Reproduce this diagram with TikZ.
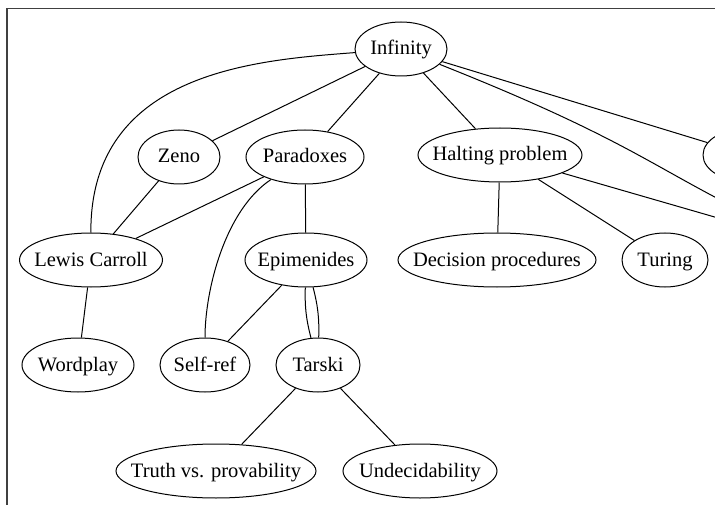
\documentclass[tikz,border=0pt]{standalone}
\usepackage{fontspec}
\setmainfont{Liberation Serif}
\usetikzlibrary{shapes.geometric}
\tikzset{
  topic/.style={draw, ellipse, line width=1pt, inner sep=0pt, minimum height=54,
    minimum width=#1, text height=15, text depth=3,
    font=\fontsize{20.5}{24}\selectfont},
  link/.style={line width=1pt}
}
\begin{document}
\begin{tikzpicture}[x=1pt,y=-1pt]
\useasboundingbox (0,0) rectangle (715,505);
\clip (0,0) rectangle (715,505);
\draw[black!75, line width=1.2pt] (7,520) -- (7,8.5) -- (730,8.5);

\node[topic=92] (inf) at (401,49) {\makebox[0pt]{Infinity}};
\node[topic=82] (zeno) at (179,157) {\makebox[0pt]{Zeno}};
\node[topic=118] (para) at (305,157) {\makebox[0pt]{Paradoxes}};
\node[topic=164] (halt) at (500,155) {\makebox[0pt]{Halting problem}};
\node[topic=90] (rnode) at (748,155) {};
\node[topic=143] (carroll) at (91,260) {\makebox[0pt]{Lewis Carroll}};
\node[topic=122] (epi) at (306,260) {\makebox[0pt]{Epimenides}};
\node[topic=198] (dec) at (497,260) {\makebox[0pt]{Decision procedures}};
\node[topic=86] (turing) at (665,260) {\makebox[0pt]{Turing}};
\node[topic=112] (word) at (78,365) {\makebox[0pt]{Wordplay}};
\node[topic=90] (self) at (205,365) {\makebox[0pt]{Self-ref}};
\node[topic=84] (tarski) at (318,365) {\makebox[0pt]{Tarski}};
\node[topic=200] (truth) at (216,471) {\makebox[0pt]{Truth vs. provability}};
\node[topic=154] (undec) at (420,471) {\makebox[0pt]{Undecidability}};
\coordinate (offA) at (740,210);
\coordinate (offB) at (770,233);

\draw[link] (inf) .. controls (260,60) and (90,70) .. (carroll);
\draw[link] (inf) -- (zeno);
\draw[link] (inf) -- (para);
\draw[link] (inf) -- (halt);
\draw[link] (inf) -- (rnode);
\draw[link] (inf) .. controls (620,136) and (650,165) .. (offA);
\draw[link] (zeno) -- (carroll);
\draw[link] (para) -- (carroll);
\draw[link] (para) .. controls (225,210) and (205,290) .. (self);
\draw[link] (para) -- (epi);
\draw[link] (halt) -- (dec);
\draw[link] (halt) -- (turing);
\draw[link] (halt) -- (offB);
\draw[link] (carroll) -- (word);
\draw[link] (epi) -- (self);
\draw[link] (epi) to[bend right=8] (tarski);
\draw[link] (epi) to[bend left=8] (tarski);
\draw[link] (tarski) -- (truth);
\draw[link] (tarski) -- (undec);
\end{tikzpicture}
\end{document}
